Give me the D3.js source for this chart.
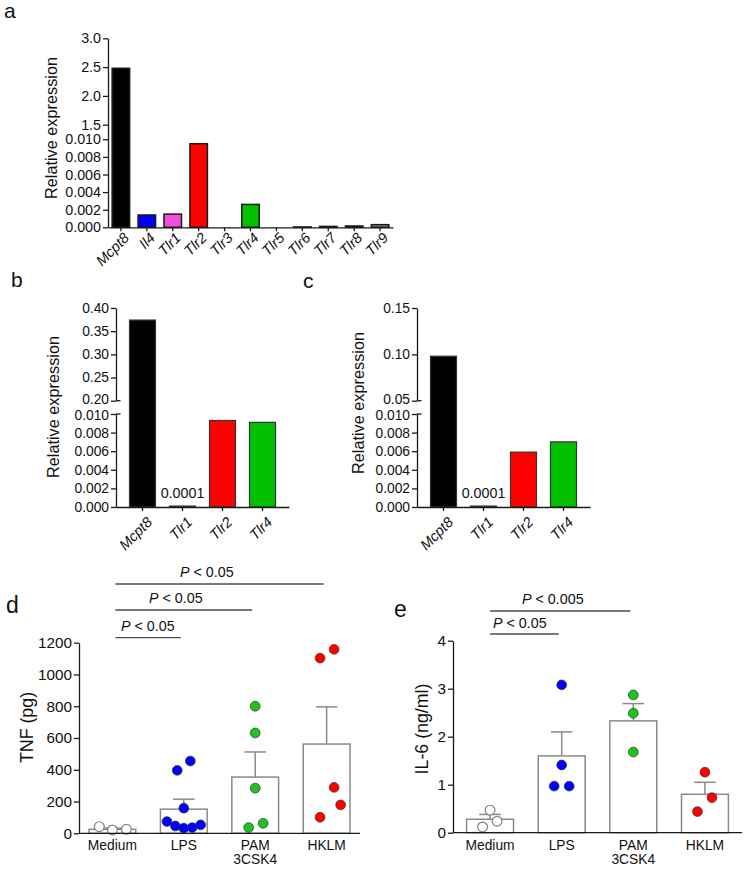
<!DOCTYPE html>
<html>
<head>
<meta charset="utf-8">
<script src="https://cdn.jsdelivr.net/npm/d3@7/dist/d3.min.js"></script>
<style>
  html, body { margin: 0; padding: 0; background: #fff; }
  svg { display: block; font-family: "Liberation Sans", Arial, sans-serif; }
</style>
</head>
<body>
<svg id="chart" width="748" height="875"></svg>
<script>
// ---------------- DATA ----------------
// Panel a
const aCategories = ["Mcpt8","Il4","Tlr1","Tlr2","Tlr3","Tlr4","Tlr5","Tlr6","Tlr7","Tlr8","Tlr9"];
const aValues = [2.48, 0.0014, 0.0015, 0.0095, 0, 0.0026, 0, 0.00004, 0.0001, 0.00015, 0.0003];
const aColors = ["#000000","#0000ff","#f24fdc","#ff0000","#999999","#00c000","#999999","#bbbbbb","#444444","#222222","#888888"];
const aLowerTicks = [0, 0.002, 0.004, 0.006, 0.008, 0.010];
const aUpperTicks = [1.5, 2.0, 2.5, 3.0];

// Panels b and c
const bcCategories = ["Mcpt8","Tlr1","Tlr2","Tlr4"];
const bValues = [0.374, 0.0001, 0.0093, 0.0091];
const cValues = [0.098, 0.0001, 0.0059, 0.0070];
const bcColors = ["#000000","#000000","#ff0000","#00c000"];
const bcLowerTicks = [0, 0.002, 0.004, 0.006, 0.008, 0.010];
const bUpperTicks = [0.20, 0.25, 0.30, 0.35, 0.40];
const cUpperTicks = [0.05, 0.10, 0.15];
const bcNote = "0.0001";

// Panels d and e
const deGroups = ["Medium","LPS","PAM\n3CSK4","HKLM"];
const deColors = ["#ffffff","#0000ff","#1fc21f","#ff0000"];
const dMeans = [25, 152, 354, 562];
const dSEM = [8, 63, 158, 234];
const dPoints = [
  [42, 21, 25],
  [396, 455, 158, 74, 46, 32, 36, 53],
  [800, 632, 284, 36, 63],
  [1103, 1158, 289, 179, 101]
];
const dJitter = [ // horizontal offsets, fraction of bar width
  [-0.28, 0, 0.30],
  [-0.14, 0.14, 0, -0.36, -0.18, 0, 0.18, 0.36],
  [0, 0, 0, -0.14, 0.17],
  [-0.14, 0.16, 0.16, 0.30, -0.14]
];
const dTicks = [0, 200, 400, 600, 800, 1000, 1200];
const dComparisons = [[0,1,"< 0.05"],[0,2,"< 0.05"],[0,3,"< 0.05"]];

const eMeans = [0.28, 1.60, 2.33, 0.80];
const eSEM = [0.10, 0.50, 0.36, 0.25];
const ePoints = [
  [0.47, 0.12, 0.24],
  [3.08, 1.41, 0.97, 0.97],
  [2.87, 2.49, 1.68],
  [1.26, 0.73, 0.44]
];
const eJitter = [
  [0, -0.16, 0.15],
  [0, 0, -0.16, 0.16],
  [0, 0, 0],
  [0, 0.15, -0.16]
];
const eTicks = [0, 1, 2, 3, 4];
const eComparisons = [[0,1,"< 0.05"],[0,2,"< 0.005"]];

// ---------------- DRAW ----------------
const svg = d3.select("#chart");
const FONT = "'Liberation Sans', Arial, sans-serif";
const AX = "#1a1a1a";

function styleAxis(g, fs) {
  g.selectAll("path, line").attr("stroke", AX).attr("stroke-width", 1.3);
  g.selectAll("text").attr("font-size", fs).attr("font-family", FONT).attr("fill", "#111");
}

function panelLabel(t, x, y, fs) {
  svg.append("text").attr("x", x).attr("y", y).attr("font-size", fs)
    .attr("font-family", FONT).attr("fill", "#111").text(t);
}

function yLabel(t, cx, cy, fs) {
  svg.append("text").attr("transform", `translate(${cx},${cy}) rotate(-90)`)
    .attr("text-anchor", "middle").attr("dominant-baseline", "central")
    .attr("font-size", fs).attr("font-family", FONT).attr("fill", "#111").text(t);
}

function rotatedXAxis(x, y0, dx, dy) {
  const g = svg.append("g").attr("transform", `translate(0,${y0})`)
    .call(d3.axisBottom(x).tickSize(4).tickSizeOuter(0));
  styleAxis(g, 14.5);
  g.selectAll(".tick text")
    .attr("text-anchor", "end").attr("font-style", "italic")
    .attr("y", 0).attr("dy", "0.35em")
    .attr("transform", `translate(${dx},${dy}) rotate(-45)`);
  return g;
}

// ----- Panel a -----
panelLabel("a", 4, 18, 21);
{
  const x = d3.scaleBand().domain(aCategories).range([108, 393]).paddingInner(0.325).paddingOuter(0.16);
  const y = d3.scaleLinear().domain([0, 0.010, 1.5, 3.0]).range([227.3, 139.3, 124.7, 38.3]);
  svg.append("g").selectAll("rect").data(aCategories).join("rect")
    .attr("x", d => x(d)).attr("width", x.bandwidth())
    .attr("y", (d, i) => y(aValues[i]))
    .attr("height", (d, i) => y(0) - y(aValues[i]))
    .attr("fill", (d, i) => aColors[i])
    .attr("stroke", "#1a1a1a").attr("stroke-width", 1.5);
  const gy = svg.append("g").attr("transform", "translate(108,0)")
    .call(d3.axisLeft(y).tickValues([...aLowerTicks, ...aUpperTicks])
      .tickFormat(v => v < 1 ? d3.format(".3f")(v) : d3.format(".1f")(v))
      .tickSize(5).tickSizeOuter(0).tickPadding(2));
  styleAxis(gy, 14.3);
  rotatedXAxis(x, 227.3, 5.5, 8);
  yLabel("Relative expression", 51, 128, 16.3);
}

// ----- Panels b and c -----
function brokenPanel(values, upperTicks, x0, label, lx, ly, ylx, yly) {
  panelLabel(label, lx, ly, 21);
  const yLo = 507, yHiLow = 414, yBreakTop = 400.7, yTop = 308;
  const upper = d3.scaleLinear().domain([upperTicks[0], upperTicks[upperTicks.length - 1]]).range([yBreakTop, yTop]);
  const lower = d3.scaleLinear().domain([0, 0.010]).range([yLo, yHiLow]);
  const y = d3.scaleLinear().domain([0, 0.010, upper.domain()[0], upper.domain()[1]])
    .range([yLo, yHiLow, yBreakTop, yTop]);
  const x = d3.scaleBand().domain(bcCategories).range([x0, x0 + 173]).paddingInner(0.35).paddingOuter(0.3375);
  svg.append("g").selectAll("rect").data(bcCategories).join("rect")
    .attr("x", d => x(d)).attr("width", x.bandwidth())
    .attr("y", (d, i) => y(values[i]))
    .attr("height", (d, i) => y(0) - y(values[i]))
    .attr("fill", (d, i) => bcColors[i])
    .attr("stroke", "#333").attr("stroke-width", 1.2);
  const gU = svg.append("g").attr("transform", `translate(${x0},0)`)
    .call(d3.axisLeft(upper).tickValues(upperTicks).tickFormat(d3.format(".2f"))
      .tickSize(5).tickSizeOuter(0).tickPadding(2));
  styleAxis(gU, 13.8);
  gU.selectAll(".tick text").filter(d => d === upperTicks[0]).attr("y", -1.4);
  const gL = svg.append("g").attr("transform", `translate(${x0},0)`)
    .call(d3.axisLeft(lower).tickValues(bcLowerTicks).tickFormat(d3.format(".3f"))
      .tickSize(5).tickSizeOuter(0).tickPadding(2));
  styleAxis(gL, 13.8);
  gL.selectAll(".tick text").filter(d => d === 0.010).attr("y", 1.4);
  // break marks
  [upper(upperTicks[0]), lower(0.010)].forEach(yy => {
    svg.append("line").attr("x1", x0).attr("x2", x0 + 4.5).attr("y1", yy).attr("y2", yy)
      .attr("stroke", AX).attr("stroke-width", 1.3);
  });
  rotatedXAxis(x, yLo, 7, 12.5);
  svg.append("text").attr("x", x("Tlr1") + x.bandwidth() / 2).attr("y", 498)
    .attr("text-anchor", "middle").attr("font-size", 14.3).attr("font-family", FONT)
    .attr("fill", "#111").text(bcNote);
  yLabel("Relative expression", ylx, yly, 16.3);
}
brokenPanel(bValues, bUpperTicks, 116, "b", 11, 287, 52.5, 407);
brokenPanel(cValues, cUpperTicks, 417, "c", 303, 288, 357.5, 403);

// ----- Panels d and e -----
function dotPanel(opts) {
  const { means, sem, points, jitter, ticks, comps, x0, x1, y0, yTop, po, label, lx, ly, ytitle, ylx, yly, lines, texts } = opts;
  panelLabel(label, lx, ly, 23);
  const x = d3.scaleBand().domain(deGroups).range([x0, x1]).paddingInner(0.345).paddingOuter(po);
  const y = d3.scaleLinear().domain([ticks[0], ticks[ticks.length - 1]]).range([y0, yTop]);
  const bw = x.bandwidth();
  const cxOf = d => x(d) + bw / 2;
  // bars
  svg.append("g").selectAll("rect").data(deGroups).join("rect")
    .attr("x", d => x(d)).attr("width", bw)
    .attr("y", (d, i) => y(means[i])).attr("height", (d, i) => y(0) - y(means[i]))
    .attr("fill", "#fff").attr("stroke", "#8a8a8a").attr("stroke-width", 1.5);
  // error bars
  const eg = svg.append("g").attr("stroke", "#8a8a8a").attr("stroke-width", 1.5);
  deGroups.forEach((d, i) => {
    const cx = cxOf(d);
    eg.append("line").attr("x1", cx).attr("x2", cx).attr("y1", y(means[i])).attr("y2", y(means[i] + sem[i]));
    eg.append("line").attr("x1", cx - bw * 0.23).attr("x2", cx + bw * 0.23)
      .attr("y1", y(means[i] + sem[i])).attr("y2", y(means[i] + sem[i]));
  });
  // points
  deGroups.forEach((d, i) => {
    const cx = cxOf(d);
    svg.append("g").selectAll("circle").data(points[i]).join("circle")
      .attr("cx", (v, j) => cx + jitter[i][j] * bw)
      .attr("cy", v => y(v)).attr("r", 4.9)
      .attr("fill", deColors[i])
      .attr("stroke", i === 0 ? "#808080" : "#333").attr("stroke-width", i === 0 ? 1.2 : 0.7);
  });
  // axes
  const gy = svg.append("g").attr("transform", `translate(${x0},0)`)
    .call(d3.axisLeft(y).tickValues(ticks).tickFormat(d3.format("d"))
      .tickSize(5).tickSizeOuter(0).tickPadding(2));
  styleAxis(gy, 15.3);
  svg.append("line").attr("x1", x0).attr("x2", x1).attr("y1", y0).attr("y2", y0)
    .attr("stroke", AX).attr("stroke-width", 1.3);
  // category labels
  deGroups.forEach(d => {
    const t = svg.append("text").attr("text-anchor", "middle").attr("font-size", 13.8)
      .attr("font-family", FONT).attr("fill", "#111");
    d.split("\n").forEach((s, k) => {
      t.append("tspan").attr("x", cxOf(d)).attr("y", 849.5 + k * 14).text(s);
    });
  });
  yLabel(ytitle, ylx, yly, 17.8);
  // significance
  comps.forEach((c, k) => {
    const a = cxOf(deGroups[c[0]]) + opts.startOff;
    const b = cxOf(deGroups[c[1]]) - 3;
    svg.append("line").attr("x1", a).attr("x2", b)
      .attr("y1", lines[k]).attr("y2", lines[k]).attr("stroke", "#4d4d4d").attr("stroke-width", 1.3);
    const t = svg.append("text").attr("x", texts[k][0]).attr("y", texts[k][1])
      .attr("font-size", 14.3).attr("font-family", FONT).attr("fill", "#111");
    t.append("tspan").attr("font-style", "italic").text("P");
    t.append("tspan").text(" " + c[2]);
  });
}

dotPanel({
  means: dMeans, sem: dSEM, points: dPoints, jitter: dJitter, ticks: dTicks, comps: dComparisons,
  x0: 79, x1: 360, y0: 833.3, yTop: 642.7, po: 0.14, startOff: 3,
  label: "d", lx: 6, ly: 613, ytitle: "TNF (pg)", ylx: 26.5, yly: 727.5,
  lines: [637.7, 610, 584], texts: [[121, 631], [149, 603], [180, 577]]
});
dotPanel({
  means: eMeans, sem: eSEM, points: ePoints, jitter: eJitter, ticks: eTicks, comps: eComparisons,
  x0: 453, x1: 742, y0: 832.7, yTop: 640.7, po: 0.19, startOff: 0,
  label: "e", lx: 394, ly: 617, ytitle: "IL-6 (ng/ml)", ylx: 421.5, yly: 729,
  lines: [634, 611], texts: [[493, 628], [522, 604]]
});
</script>
</body>
</html>
